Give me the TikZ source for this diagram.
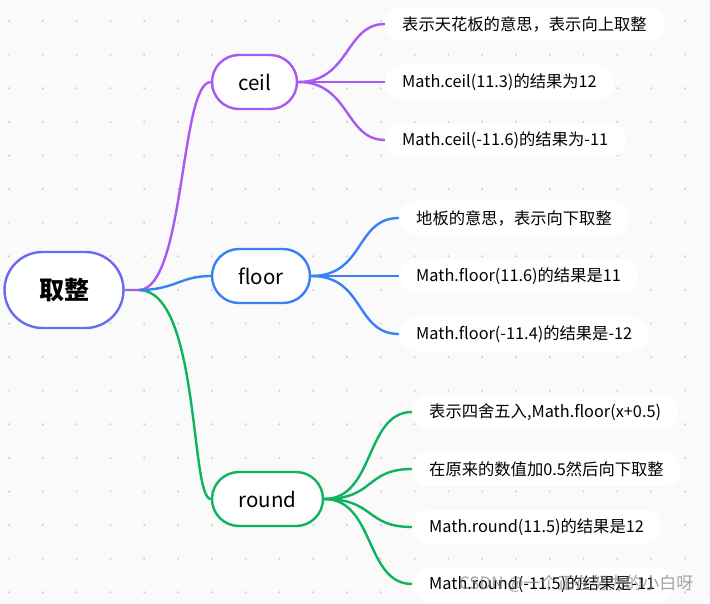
\documentclass[tikz,border=0pt]{standalone}
\usepackage{fontspec}
\setmainfont{Noto Sans CJK SC}
\begin{document}
\begin{tikzpicture}[x=1pt,y=-1pt,
 pill/.style={rounded corners=27pt,line width=2.4pt,fill=white,minimum height=54pt,font=\fontsize{20.5}{24}\selectfont,inner xsep=10pt},
 leaf/.style={rounded corners=16pt,fill=white,minimum height=34pt,font=\fontsize{16.3}{19}\selectfont,anchor=west,inner xsep=17pt},
 link/.style={line width=2.4pt}]
\definecolor{pur}{HTML}{A65AF2}
\definecolor{blu}{HTML}{3A80F5}
\definecolor{grn}{HTML}{0DB35E}
\definecolor{rootc}{HTML}{6B6BF2}
\fill[fill={rgb,255:red,250;green,250;blue,250}] (0,0) rectangle (710,603);
\useasboundingbox (0,0) rectangle (710,603);
\foreach \i in {0,...,20}{\foreach \j in {0,...,17}{
 \fill[gray!40] (9+33.8*\i,21+33.6*\j) circle (1.1pt);}}
% nodes
\node[pill,draw=rootc,minimum width=119pt,minimum height=76pt,rounded corners=38pt,font=\fontsize{25}{30}\selectfont\bfseries] (root) at (64,290) {取整};
\node[pill,draw=pur,minimum width=85pt] (ceil) at (254.5,82) {ceil};
\node[pill,draw=blu,minimum width=98pt] (floor) at (261,276) {floor};
\node[pill,draw=grn,minimum width=111pt] (round) at (267.5,499) {round};
\node[leaf] (c1) at (385,24) {表示天花板的意思，表示向上取整};
\node[leaf] (c2) at (385,82) {Math.ceil(11.3)的结果为12};
\node[leaf] (c3) at (385,140) {Math.ceil(-11.6)的结果为-11};
\node[leaf] (f1) at (399,218) {地板的意思，表示向下取整};
\node[leaf] (f2) at (399,276) {Math.floor(11.6)的结果是11};
\node[leaf] (f3) at (399,334) {Math.floor(-11.4)的结果是-12};
\node[leaf] (r1) at (412,412) {表示四舍五入,Math.floor(x+0.5)};
\node[leaf] (r2) at (412,469) {在原来的数值加0.5然后向下取整};
\node[leaf] (r3) at (412,527) {Math.round(11.5)的结果是12};
\node[leaf] (r4) at (412,584) {Math.round(-11.5)的结果是-11};
% connectors
\coordinate (rs) at ([xshift=14pt]root.east);
\draw[link,grn] (root.east) -- (rs) .. controls (200,290) and (190,499) .. (round.west);
\draw[link,pur] (rs) .. controls (185,290) and (180,82) .. (ceil.west);
\draw[link,blu] (rs) .. controls (175,290) and (180,276) .. (floor.west);
\draw[link,pur] (root.east) -- (rs);
\foreach \n in {c1,c2,c3}{\draw[link,pur] (ceil.east) .. controls (350,82) and (345,0|-\n.west) .. (\n.west);}
\foreach \n in {f1,f2,f3}{\draw[link,blu] (floor.east) .. controls (365,276) and (355,0|-\n.west) .. (\n.west);}
\foreach \n in {r1,r2,r3,r4}{\draw[link,grn] (round.east) .. controls (375,499) and (365,0|-\n.west) .. (\n.west);}
\node[text=gray,opacity=0.7,font=\fontsize{17}{20}\selectfont,anchor=east] (wm) at (697,584) {CSDN @一个正在努力的小白呀};
\end{tikzpicture}
\end{document}
